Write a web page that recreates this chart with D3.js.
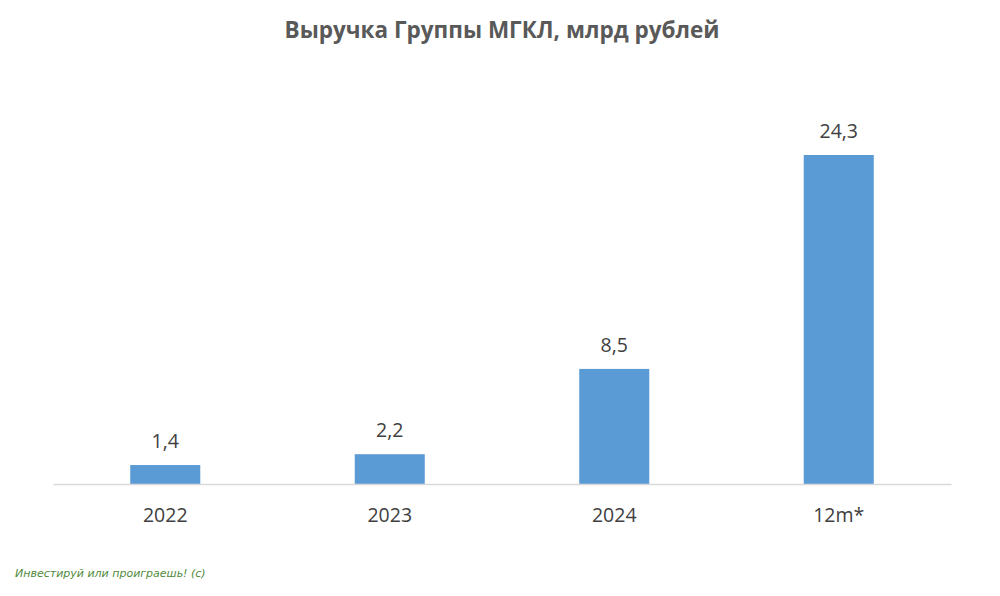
<!DOCTYPE html>
<html>
<head>
<meta charset="utf-8">
<script src="https://cdn.jsdelivr.net/npm/d3@7"></script>
<style>
  body { margin: 0; background: #fff; }
  svg { display: block; }
</style>
</head>
<body>
<svg id="chart"></svg>
<script>
// Выручка Группы МГКЛ, млрд рублей
const categories = ["2022", "2023", "2024", "12m*"];
const revenue = [1.4, 2.2, 8.5, 24.3];
const valueLabels = ["1,4", "2,2", "8,5", "24,3"];

const W = 1000, H = 596;
const svg = d3.select("#chart").attr("width", W).attr("height", H);
const font = "'Open Sans', 'Liberation Sans', sans-serif";

const x = d3.scaleBand().domain(categories).range([53, 951])
    .paddingInner(0.688).paddingOuter(0.344);
const y = d3.scaleLinear().domain([0, 24.3]).range([484, 155]);

// title
svg.append("text")
    .attr("x", 502).attr("y", 38)
    .attr("text-anchor", "middle")
    .style("font-family", font).style("font-weight", "700")
    .style("font-size", "22.5px").style("fill", "#595959")
    .text("Выручка Группы МГКЛ, млрд рублей");

// bars
svg.selectAll("rect.bar").data(revenue).enter()
    .append("rect").attr("class", "bar")
    .attr("x", (d, i) => x(categories[i]))
    .attr("width", x.bandwidth())
    .attr("y", d => y(d))
    .attr("height", d => y(0) - y(d))
    .style("fill", "#5b9bd5");

// baseline axis
const axis = svg.append("g").attr("transform", `translate(0,${y(0)})`)
    .call(d3.axisBottom(x).tickSize(0).tickPadding(24));
axis.select(".domain").attr("stroke", "#d9d9d9").attr("stroke-width", 1.3);
axis.selectAll("text")
    .style("font-family", font).style("font-size", "19.5px").style("fill", "#404040");

// value labels
svg.selectAll("text.val").data(revenue).enter()
    .append("text").attr("class", "val")
    .attr("x", (d, i) => x(categories[i]) + x.bandwidth() / 2)
    .attr("y", d => y(d) - 17)
    .attr("text-anchor", "middle")
    .style("font-family", font).style("font-size", "19.5px").style("fill", "#404040")
    .text((d, i) => valueLabels[i]);

// watermark
svg.append("text")
    .attr("x", 15).attr("y", 577)
    .style("font-family", "'DejaVu Sans', sans-serif").style("font-style", "italic")
    .style("font-size", "11px").style("fill", "#4f8a3c")
    .text("Инвестируй или проиграешь! (с)");
</script>
</body>
</html>
